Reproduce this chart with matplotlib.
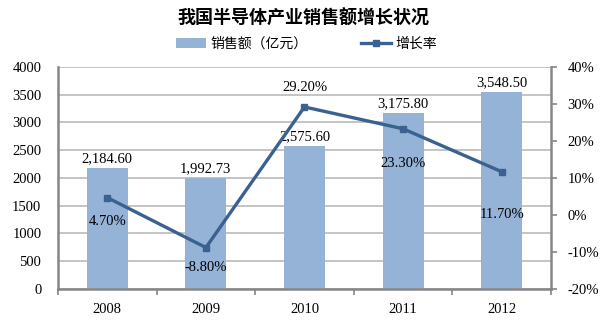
import matplotlib.pyplot as plt
import numpy as np
from matplotlib.lines import Line2D
from matplotlib.patches import Patch

years = ["2008", "2009", "2010", "2011", "2012"]
sales = [2184.60, 1992.73, 2575.60, 3175.80, 3548.50]   # 亿元
growth = [4.70, -8.80, 29.20, 23.30, 11.70]             # %

BAR_COLOR = "#95B3D7"
LINE_COLOR = "#3A6190"
GRID_COLOR = "#BFBFBF"
AXIS_COLOR = "#868686"

CJK = ["Noto Sans CJK SC", "DejaVu Sans"]
SERIF = "Liberation Serif"
FS = 10.5

fig = plt.figure(figsize=(6.07, 3.26), dpi=100)
ax = fig.add_axes([0.0956, 0.1135, 0.812, 0.681])
x = np.arange(len(years))

ax.bar(x, sales, width=0.415, color=BAR_COLOR, zorder=2)
ax.set_xlim(-0.5, len(years) - 0.5)
ax.set_ylim(0, 4000)
ax.set_yticks(np.arange(0, 4001, 500))
ax.yaxis.grid(True, color=GRID_COLOR, linewidth=1.3, zorder=0)
ax.set_axisbelow(True)

ax.set_xticks(x)
ax.set_xticklabels(years, fontfamily=SERIF, fontsize=FS)
ax.set_xticks(np.arange(-0.5, len(years), 1), minor=True)
ax.tick_params(axis="x", which="major", length=0, pad=10)
ax.tick_params(axis="x", which="minor", length=4, color=AXIS_COLOR, width=1.2)
ax.tick_params(axis="y", length=0, pad=12)
for lbl in ax.get_yticklabels():
    lbl.set_fontfamily(SERIF)
    lbl.set_fontsize(FS)

for s in ["top", "right"]:
    ax.spines[s].set_visible(False)
for s in ["left", "bottom"]:
    ax.spines[s].set_color(AXIS_COLOR)
    ax.spines[s].set_linewidth(1.8)

for xi, v in zip(x, sales):
    ax.text(xi, v + 50, f"{v:,.2f}", ha="center", va="bottom",
            fontfamily=SERIF, fontsize=FS)

ax2 = ax.twinx()
ax2.set_ylim(-20, 40)
ax2.set_yticks(np.arange(-20, 41, 10))
ax2.set_yticklabels([f"{t}%" for t in range(-20, 41, 10)], fontfamily=SERIF, fontsize=FS)
ax2.tick_params(axis="y", length=4, color=AXIS_COLOR, width=1.2, pad=8)
for s in ["top", "left", "bottom"]:
    ax2.spines[s].set_visible(False)
ax2.spines["right"].set_color(AXIS_COLOR)
ax2.spines["right"].set_linewidth(1.8)

ax2.plot(x, growth, color=LINE_COLOR, linewidth=2.4, marker="s",
         markersize=4.5, zorder=3)

# label offsets in points: above for 2010, below otherwise
offsets = [-17, -14, 14, -25, -31]
for xi, g, dy in zip(x, growth, offsets):
    ax2.annotate(f"{g:.2f}%", (xi, g), xytext=(0, dy), textcoords="offset points",
                 ha="center", va="center", fontfamily=SERIF, fontsize=FS)

fig.text(0.5, 0.945, "我国半导体产业销售额增长状况", ha="center", va="center",
         fontfamily=CJK, fontsize=13, fontweight="bold")

handles = [Patch(facecolor=BAR_COLOR),
           Line2D([0], [0], color=LINE_COLOR, linewidth=2.4, marker="s", markersize=4.5)]
fig.legend(handles, ["销售额（亿元）", "增长率"], loc="center", bbox_to_anchor=(0.505, 0.866),
           ncol=2, frameon=False, prop={"family": CJK, "size": 10},
           handlelength=2.15, handletextpad=0.35, columnspacing=3.8)

fig.savefig("out.png", dpi=100)
